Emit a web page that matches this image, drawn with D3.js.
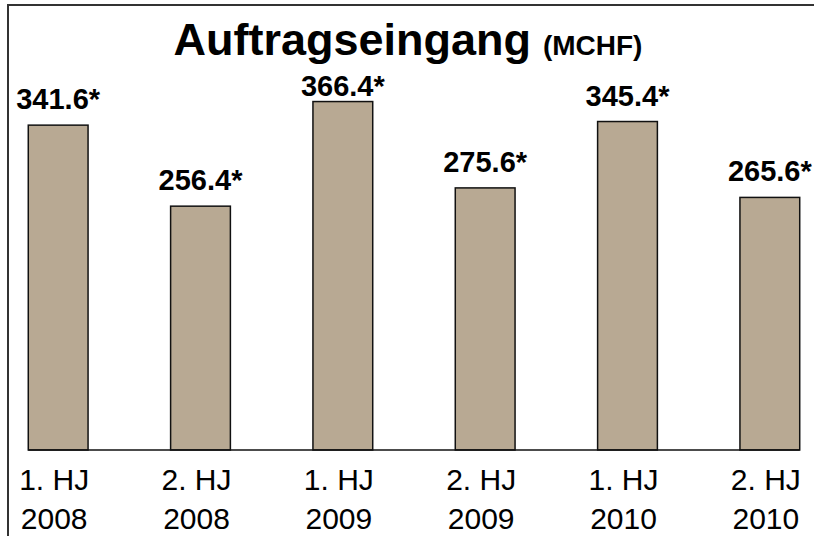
<!DOCTYPE html>
<html>
<head>
<meta charset="utf-8">
<script src="https://cdn.jsdelivr.net/npm/d3@7"></script>
<style>
  body { margin: 0; background: #fff; }
  text { font-family: "Liberation Sans", Arial, sans-serif; fill: #000; }
</style>
</head>
<body>
<div id="vis"></div>
<script>
var halves = ["1. HJ", "2. HJ", "1. HJ", "2. HJ", "1. HJ", "2. HJ"];
var years = ["2008", "2008", "2009", "2009", "2010", "2010"];
var orders = [341.6, 256.4, 366.4, 275.6, 345.4, 265.6];
var valueLabels = ["341.6*", "256.4*", "366.4*", "275.6*", "345.4*", "265.6*"];

var w = 814, h = 536;
var baseY = 450;

var svg = d3.select("#vis").append("svg")
    .attr("width", w)
    .attr("height", h);

// frame
svg.append("rect")
    .attr("x", 8).attr("y", 5)
    .attr("width", 820).attr("height", 560)
    .attr("fill", "none")
    .attr("stroke", "#333")
    .attr("stroke-width", 2);

var idx = d3.range(orders.length);

var xScale = d3.scaleBand()
    .domain(idx)
    .range([-13, 841])
    .paddingInner(0.58)
    .paddingOuter(0.29);

var yScale = d3.scaleLinear()
    .domain([0, 400])
    .range([baseY, baseY - 380.4]);

svg.selectAll("rect.bar")
    .data(idx)
    .enter()
    .append("rect")
    .attr("class", "bar")
    .attr("x", function(i) { return xScale(i); })
    .attr("y", function(i) { return yScale(orders[i]); })
    .attr("width", xScale.bandwidth())
    .attr("height", function(i) { return baseY - yScale(orders[i]); })
    .attr("fill", "#b8a993")
    .attr("stroke", "#111")
    .attr("stroke-width", 1.5);

// baseline
svg.append("line")
    .attr("x1", xScale(0)).attr("x2", xScale(idx.length - 1) + xScale.bandwidth())
    .attr("y1", baseY).attr("y2", baseY)
    .attr("stroke", "#111")
    .attr("stroke-width", 1.5);

// value labels (kept below the title)
svg.selectAll("text.val")
    .data(idx)
    .enter()
    .append("text")
    .attr("class", "val")
    .attr("x", function(i) { return xScale(i) + xScale.bandwidth() / 2; })
    .attr("y", function(i) { return Math.max(yScale(orders[i]) - 16, 96); })
    .attr("text-anchor", "middle")
    .attr("font-size", 29)
    .attr("font-weight", "bold")
    .text(function(i) { return valueLabels[i]; });

// category labels
var cat = svg.selectAll("text.cat")
    .data(idx)
    .enter()
    .append("text")
    .attr("class", "cat")
    .attr("text-anchor", "middle")
    .attr("font-size", 30);

cat.append("tspan")
    .attr("x", function(i) { return xScale(i) + xScale.bandwidth() / 2 - 4; })
    .attr("y", 490)
    .text(function(i) { return halves[i]; });

cat.append("tspan")
    .attr("x", function(i) { return xScale(i) + xScale.bandwidth() / 2 - 4; })
    .attr("y", 529)
    .text(function(i) { return years[i]; });

// title
var title = svg.append("text")
    .attr("x", 408)
    .attr("y", 55)
    .attr("text-anchor", "middle")
    .attr("font-weight", "bold");

title.append("tspan")
    .attr("font-size", 45)
    .text("Auftragseingang");

title.append("tspan")
    .attr("font-size", 28)
    .attr("dx", 4)
    .text(" (MCHF)");
</script>
</body>
</html>
